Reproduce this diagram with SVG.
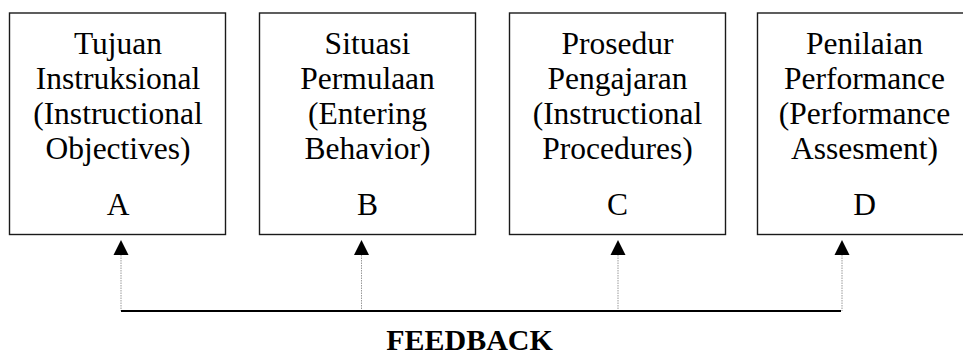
<svg xmlns="http://www.w3.org/2000/svg" width="963" height="357" viewBox="0 0 963 357">
<style>
.box{fill:#fff;stroke:#1a1a1a;stroke-width:1.4}
.t{font-family:"Liberation Serif","Times New Roman",serif;font-size:31.5px;fill:#000;text-anchor:middle}
.fb{font-family:"Liberation Serif","Times New Roman",serif;font-size:30px;font-weight:bold;fill:#000;text-anchor:middle}
.v{stroke:#999;stroke-width:1;stroke-dasharray:1.5 1}
.h{stroke:#000;stroke-width:2}
.ah{fill:#000}
</style>
<rect width="963" height="357" fill="#fff"/>
<g id="nodeA">
<rect class="box" x="9.5" y="13" width="216" height="221.5"/>
<text class="t" x="118" y="53.5">Tujuan</text>
<text class="t" x="118" y="88.5">Instruksional</text>
<text class="t" x="118" y="123.5">(Instructional</text>
<text class="t" x="118" y="158.5">Objectives)</text>
<text class="t" x="118" y="215">A</text>
</g>
<g id="nodeB">
<rect class="box" x="259.5" y="13" width="216" height="221.5"/>
<text class="t" x="367.5" y="53.5">Situasi</text>
<text class="t" x="367.5" y="88.5">Permulaan</text>
<text class="t" x="367.5" y="123.5">(Entering</text>
<text class="t" x="367.5" y="158.5">Behavior)</text>
<text class="t" x="367.5" y="215">B</text>
</g>
<g id="nodeC">
<rect class="box" x="509.5" y="13" width="216" height="221.5"/>
<text class="t" x="617.5" y="53.5">Prosedur</text>
<text class="t" x="617.5" y="88.5">Pengajaran</text>
<text class="t" x="617.5" y="123.5">(Instructional</text>
<text class="t" x="617.5" y="158.5">Procedures)</text>
<text class="t" x="617.5" y="215">C</text>
</g>
<g id="nodeD">
<rect class="box" x="757.5" y="13" width="216" height="221.5"/>
<text class="t" x="864.5" y="53.5">Penilaian</text>
<text class="t" x="864.5" y="88.5">Performance</text>
<text class="t" x="864.5" y="123.5">(Performance</text>
<text class="t" x="864.5" y="158.5">Assesment)</text>
<text class="t" x="864.5" y="215">D</text>
</g>
<g id="connectors">
<line class="v" x1="121" y1="255" x2="121" y2="311"/>
<line class="v" x1="361.5" y1="255" x2="361.5" y2="311"/>
<line class="v" x1="618" y1="255" x2="618" y2="311"/>
<line class="v" x1="842" y1="255" x2="842" y2="311"/>
<polygon class="ah" points="121,240 113.5,255 128.5,255"/>
<polygon class="ah" points="361.5,240 354,255 369,255"/>
<polygon class="ah" points="618,240 610.5,255 625.5,255"/>
<polygon class="ah" points="842,240 834.5,255 849.5,255"/>
<line class="h" x1="121" y1="311" x2="841" y2="311"/>
</g>
<g id="label">
<text class="fb" x="469.5" y="350">FEEDBACK</text>
</g>
</svg>
